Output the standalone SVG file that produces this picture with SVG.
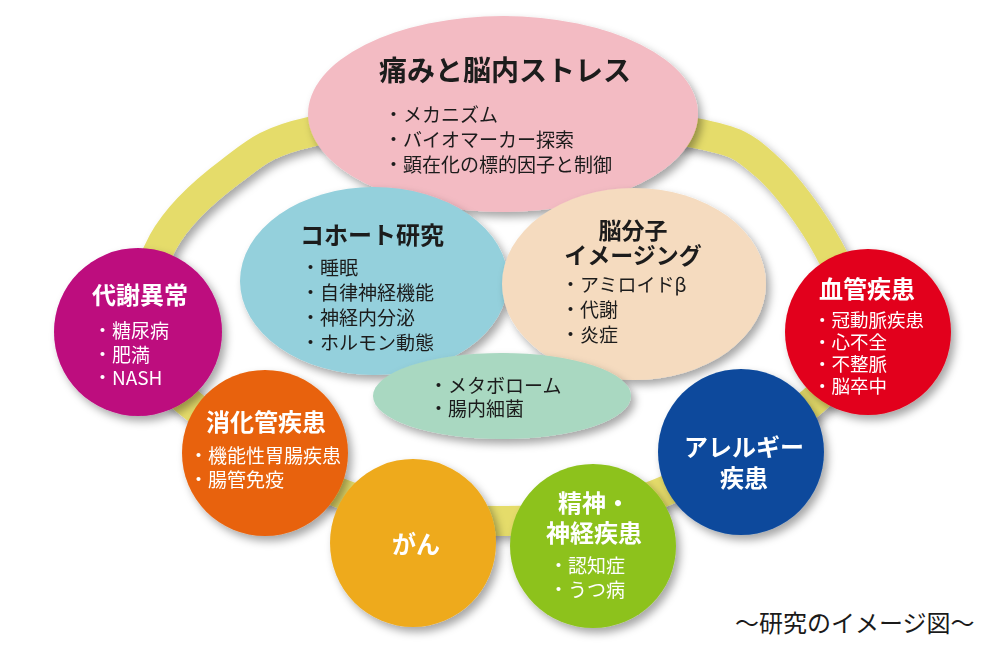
<svg xmlns="http://www.w3.org/2000/svg" width="1000" height="650" viewBox="0 0 1000 650">
<defs>
<filter id="sh" x="-20%" y="-20%" width="150%" height="150%">
<feDropShadow dx="4" dy="5" stdDeviation="4" flood-color="#000" flood-opacity="0.35"/>
</filter>
<style>
text{font-family:"Noto Sans CJK JP","Noto Sans",sans-serif;font-size:19px;}
.t{font-weight:700;font-size:24px;text-anchor:middle;}
.i{font-size:19px;font-weight:400;text-anchor:start;}
.dk{fill:#1a1a1a;}
.wh{fill:#ffffff;}
</style>
</defs>
<rect width="1000" height="650" fill="#ffffff"/>
<g id="connectors">
<path d="M500,112 C564.2,112.2 650.8,124.2 695,133 C739.2,141.8 742.8,145.8 765,165 C787.2,184.2 813,220.5 828,248 C843,275.5 857.7,304.3 855,330 C852.3,355.7 845.3,374.5 812,402 C778.7,429.5 707,475.2 655,495 C603,514.8 551.7,521 500,521 C448.3,521 397,514.8 345,495 C293,475.2 221.7,429.5 188,402 C154.3,374.5 147.2,356.7 143,330 C138.8,303.3 148.5,268.3 163,242 C177.5,215.7 205.5,190.3 230,172 C254.5,153.7 265,142 310,132 C355,122 435.8,111.8 500,112 Z" fill="none" stroke="#e5dc6b" stroke-width="30" filter="url(#sh)"/>
</g>
<g id="pain" filter="url(#sh)">
<ellipse cx="503" cy="114" rx="195" ry="98" fill="#f3bbc3"/>
<text class="dk"><tspan x="505" y="81" class="t" style="font-size:28px">痛みと脳内ストレス</tspan><tspan x="384" y="122" class="i">・メカニズム</tspan><tspan x="384" y="147" class="i">・バイオマーカー探索</tspan><tspan x="384" y="172" class="i">・顕在化の標的因子と制御</tspan></text>
</g>
<g id="cohort" filter="url(#sh)">
<ellipse cx="374" cy="281" rx="134" ry="94" fill="#94d0dc"/>
<text class="dk"><tspan x="372" y="244" class="t">コホート研究</tspan><tspan x="301" y="275" class="i">・睡眠</tspan><tspan x="301" y="300" class="i">・自律神経機能</tspan><tspan x="301" y="325" class="i">・神経内分泌</tspan><tspan x="301" y="350" class="i">・ホルモン動態</tspan></text>
</g>
<g id="imaging" filter="url(#sh)">
<ellipse cx="634" cy="284" rx="132" ry="96" fill="#f5dbbf"/>
<text class="dk"><tspan x="633" y="239" class="t" style="font-size:23px">脳分子</tspan><tspan x="633" y="264" class="t" style="font-size:23px">イメージング</tspan><tspan x="561" y="292" class="i">・アミロイドβ</tspan><tspan x="561" y="317" class="i">・代謝</tspan><tspan x="561" y="342" class="i">・炎症</tspan></text>
</g>
<g id="metabolome" filter="url(#sh)">
<ellipse cx="502" cy="396" rx="129" ry="43" fill="#a9d8c1"/>
<text class="dk"><tspan x="429" y="393" class="i">・メタボローム</tspan><tspan x="429" y="416" class="i">・腸内細菌</tspan></text>
</g>
<g id="metabolic" filter="url(#sh)">
<circle cx="138" cy="332" r="84" fill="#bd087e"/>
<text class="wh"><tspan x="140" y="304" class="t">代謝異常</tspan><tspan x="93" y="338" class="i">・糖尿病</tspan><tspan x="93" y="362" class="i">・肥満</tspan><tspan x="93" y="385" class="i">・NASH</tspan></text>
</g>
<g id="digestive" filter="url(#sh)">
<circle cx="265" cy="453" r="83" fill="#e8620b"/>
<text class="wh"><tspan x="266" y="431" class="t">消化管疾患</tspan><tspan x="189" y="463" class="i">・機能性胃腸疾患</tspan><tspan x="189" y="487" class="i">・腸管免疫</tspan></text>
</g>
<g id="cancer" filter="url(#sh)">
<ellipse cx="413" cy="543" rx="83" ry="84" fill="#eeaa1e"/>
<text x="416" y="553" class="t wh">がん</text>
</g>
<g id="neuro" filter="url(#sh)">
<ellipse cx="593" cy="546" rx="83" ry="82" fill="#8dc21f"/>
<text class="wh"><tspan x="594" y="512" class="t">精神・</tspan><tspan x="594" y="542" class="t">神経疾患</tspan><tspan x="549" y="573" class="i">・認知症</tspan><tspan x="549" y="597" class="i">・うつ病</tspan></text>
</g>
<g id="allergy" filter="url(#sh)">
<circle cx="741" cy="452" r="83" fill="#0b4a9c"/>
<text class="wh"><tspan x="744" y="456" class="t">アレルギー</tspan><tspan x="744" y="487" class="t">疾患</tspan></text>
</g>
<g id="vascular" filter="url(#sh)">
<circle cx="868" cy="332" r="83" fill="#e2001b"/>
<text class="wh"><tspan x="867" y="298" class="t">血管疾患</tspan><tspan x="813" y="327" class="i" style="font-size:18.5px">・冠動脈疾患</tspan><tspan x="813" y="349" class="i" style="font-size:18.5px">・心不全</tspan><tspan x="813" y="371" class="i" style="font-size:18.5px">・不整脈</tspan><tspan x="813" y="393" class="i" style="font-size:18.5px">・脳卒中</tspan></text>
</g>
<text x="735" y="632" style="font-size:24px" fill="#1a1a1a">〜研究のイメージ図〜</text>
</svg>
